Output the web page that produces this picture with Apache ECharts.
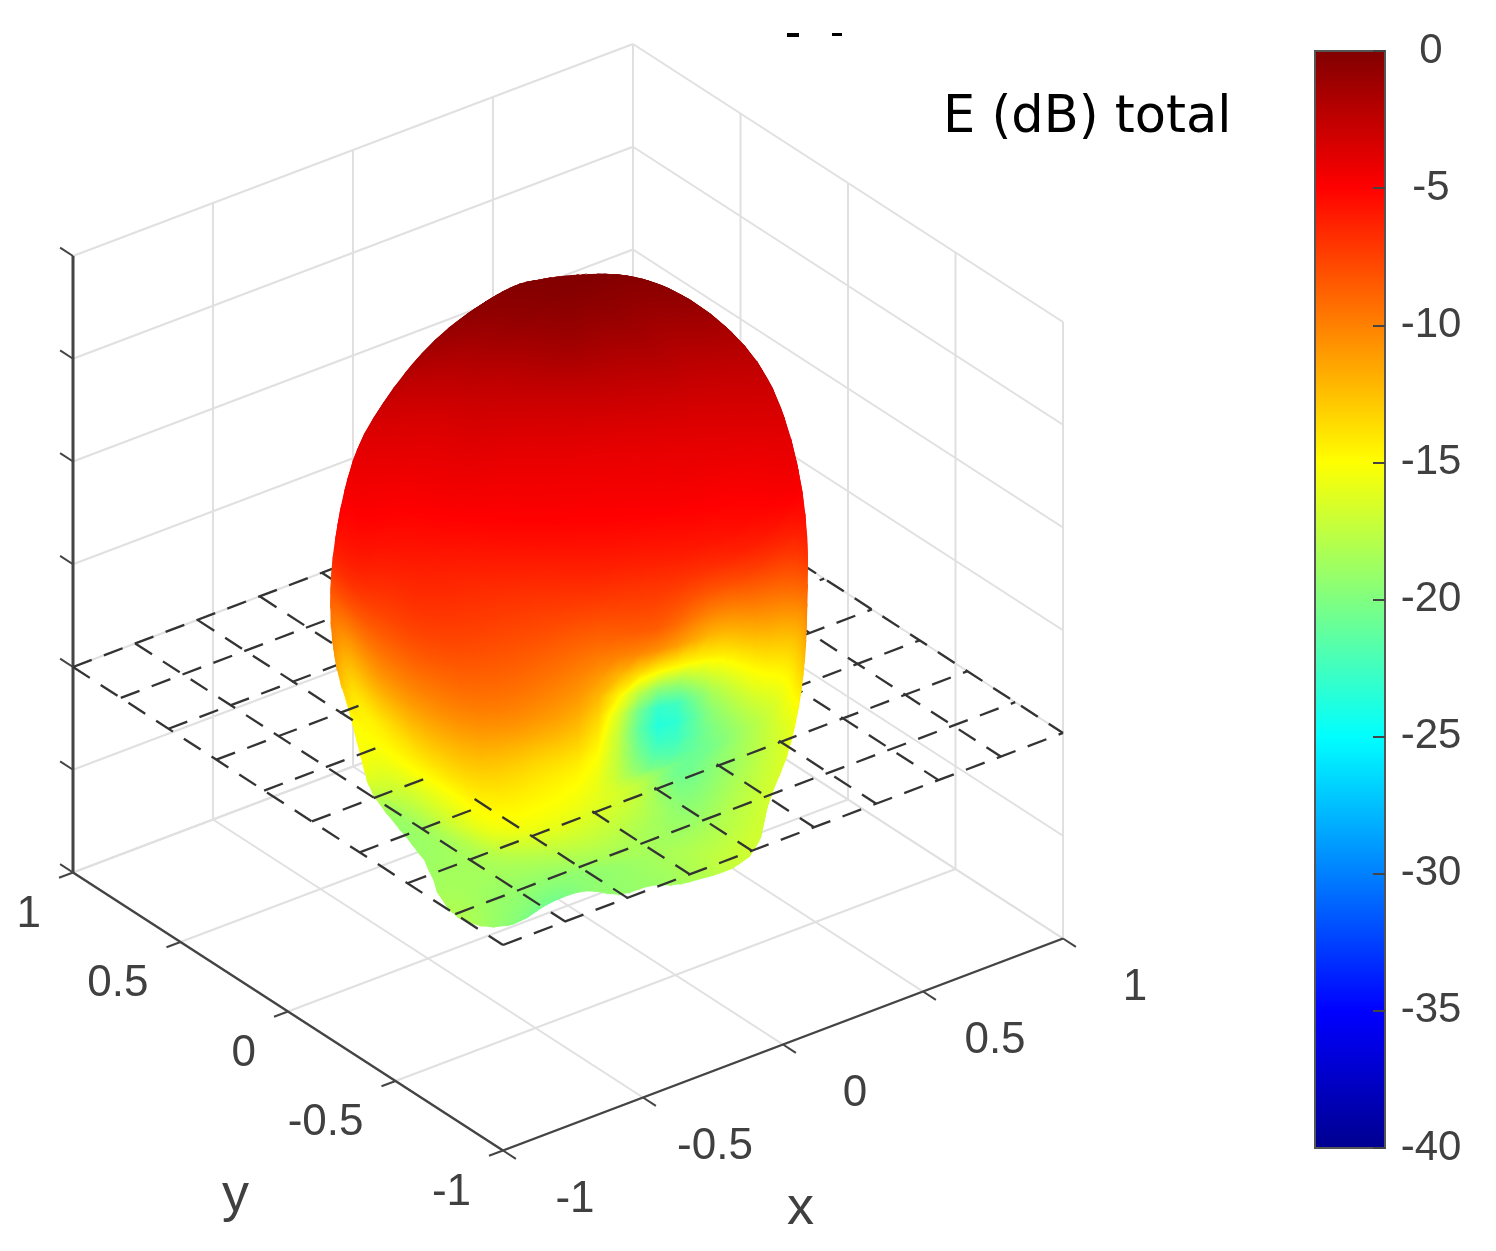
<!DOCTYPE html>
<html>
<head>
<meta charset="utf-8">
<title>E (dB) total</title>
<script src="https://cdn.jsdelivr.net/npm/echarts@6/dist/echarts.min.js"></script>
<style>
  html, body { margin: 0; background: #fff; }
  #chart { width: 1496px; height: 1251px; }
</style>
</head>
<body>
<div id="chart"></div>
<script>
// pattern mesh: one row per theta (deg), one column per phi (deg)
const thetaDeg = [0, 10, 20, 30, 40, 50, 60, 70, 80, 90, 100, 110, 120, 130, 140, 150, 160, 170, 180];
const phiDeg = [0, 15, 30, 45, 60, 75, 90, 105, 120, 135, 150, 165, 180, 195, 210, 225, 240, 255, 270, 285, 300, 315, 330, 345];

const radius = [
  [1, 1, 1, 1, 1, 1, 1, 1, 1, 1, 1, 1, 1, 1, 1, 1, 1, 1, 1, 1, 1, 1, 1, 1],
  [1, .99, .98, .975, .97, .97, .975, .975, .98, .985, .985, .98, .975, .975, .97, .97, .97, .98, .99, 1, 1.01, 1.02, 1.02, 1.01],
  [.98, .97, .96, .945, .945, .94, .935, .93, .935, .945, .95, .95, .95, .94, .93, .93, .93, .95, .96, .97, .99, 1, 1, .99],
  [.95, .95, .94, .93, .93, .92, .9, .885, .89, .895, .91, .91, .91, .9, .9, .9, .91, .92, .93, .94, .95, .96, .97, .96],
  [.91, .9, .9, .89, .89, .88, .87, .85, .85, .855, .875, .865, .86, .86, .86, .86, .87, .88, .89, .9, .91, .92, .92, .92],
  [.85, .84, .84, .84, .84, .83, .83, .82, .82, .81, .81, .81, .81, .81, .81, .81, .81, .82, .83, .83, .84, .85, .85, .85],
  [.78, .78, .78, .78, .78, .775, .77, .77, .765, .76, .76, .76, .76, .76, .76, .76, .76, .765, .77, .77, .775, .78, .78, .78],
  [.72, .72, .72, .72, .72, .72, .72, .72, .72, .715, .715, .71, .71, .71, .71, .71, .71, .71, .71, .71, .72, .72, .72, .72],
  [.68, .68, .68, .68, .68, .68, .68, .675, .675, .67, .67, .665, .66, .66, .655, .65, .65, .655, .66, .665, .67, .68, .68, .68],
  [.64, .64, .64, .64, .64, .64, .64, .64, .635, .63, .62, .6, .59, .59, .63, .67, .58, .52, .51, .54, .61, .65, .65, .64],
  [.61, .61, .61, .6, .6, .6, .6, .6, .6, .6, .6, .59, .58, .58, .57, .56, .56, .57, .58, .59, .6, .63, .63, .62],
  [.58, .58, .58, .58, .58, .58, .58, .58, .58, .59, .59, .56, .55, .55, .54, .53, .53, .53, .54, .56, .61, .61, .6, .59],
  [.55, .55, .55, .55, .55, .55, .55, .55, .55, .55, .55, .55, .56, .58, .55, .5, .48, .48, .48, .52, .61, .62, .58, .56],
  [.5, .5, .5, .5, .5, .5, .5, .5, .5, .5, .5, .5, .58, .6, .58, .51, .48, .5, .5, .53, .55, .55, .5, .5],
  [.42, .42, .42, .42, .42, .42, .42, .42, .42, .42, .42, .42, .5, .5, .5, .44, .42, .42, .42, .42, .42, .42, .42, .42],
  [.4, .4, .4, .4, .4, .4, .4, .4, .4, .4, .4, .4, .4, .45, .45, .41, .4, .4, .4, .4, .4, .4, .4, .4],
  [.38, .38, .38, .38, .38, .38, .38, .38, .38, .38, .38, .38, .38, .38, .38, .38, .38, .38, .38, .38, .38, .38, .38, .38],
  [.36, .36, .36, .36, .36, .36, .36, .36, .36, .36, .36, .36, .36, .36, .36, .36, .36, .36, .36, .36, .36, .36, .36, .36],
  [.35, .35, .35, .35, .35, .35, .35, .35, .35, .35, .35, .35, .35, .35, .35, .35, .35, .35, .35, .35, .35, .35, .35, .35]
];

const dbTotal = [
  [-.2, -.2, -.2, -.2, -.2, -.2, -.2, -.2, -.2, -.2, -.2, -.2, -.2, -.2, -.2, -.2, -.2, -.2, -.2, -.2, -.2, -.2, -.2, -.2],
  [-.2, -.1, -.1, -.1, -.1, -.1, -.1, -.2, -.25, -.4, -.5, -.7, -.8, -1, -1.1, -1.1, -1.1, -1.1, -1, -.8, -.7, -.5, -.4, -.25],
  [-.4, -.2, -.2, -.2, -.2, -.2, -.3, -.4, -.6, -.9, -1.3, -1.8, -2.1, -2.5, -2.7, -2.8, -2.8, -2.6, -2.4, -2.1, -1.8, -1.3, -.9, -.6],
  [-.9, -.5, -.4, -.3, -.3, -.4, -.5, -.9, -1.4, -2, -2.6, -3.1, -3.5, -3.7, -4, -4.1, -4.1, -4, -3.8, -3.5, -3.1, -2.6, -2, -1.4],
  [-2, -1.4, -1, -.9, -.9, -1, -1.4, -2, -2.6, -3.2, -3.7, -4.2, -4.6, -4.8, -5, -5.1, -5.1, -5, -4.8, -4.6, -4.2, -3.7, -3.2, -2.6],
  [-3.3, -2.9, -2.5, -2.3, -2.3, -2.5, -2.9, -3.3, -3.9, -4.4, -4.8, -5.2, -5.8, -6.2, -6.6, -6.9, -7, -7, -6.8, -6.2, -5.5, -4.8, -4.4, -3.9],
  [-4.4, -4, -3.6, -3.4, -3.4, -3.6, -4, -4.4, -4.8, -5.2, -6.3, -7, -7.6, -7.6, -8, -8.7, -9.8, -10.5, -12, -10.5, -9, -7, -5.5, -4.8],
  [-6, -5.5, -5, -5, -5, -5, -5.5, -6, -6.5, -8, -9.5, -11, -10.5, -10, -9.8, -10.7, -13.3, -23, -18.5, -15, -13, -10.5, -8, -6],
  [-8, -7.5, -7, -7, -7, -7, -7.5, -8, -9, -10.5, -11.5, -14, -13.7, -12.7, -12.3, -13.5, -15.3, -21.5, -20.5, -18, -15.8, -13, -11, -9],
  [-10, -10, -10, -10, -10, -10, -10, -10, -11.5, -13.5, -14.7, -15, -15, -14.7, -14.5, -15.2, -16, -17.5, -20.7, -19.5, -17.3, -15.5, -13, -11],
  [-12, -12, -12, -12, -12, -12, -12, -12, -13, -14.8, -15, -16.5, -17.5, -17, -15.8, -16.3, -17.2, -18.3, -19, -18, -17.2, -16.3, -15.5, -14],
  [-14, -14, -14, -14, -14, -14, -14, -14, -14.5, -15.5, -17.5, -18.8, -18.8, -18.5, -18, -18.2, -18.5, -18.5, -18.4, -18, -17, -16.8, -16.5, -15.5],
  [-16, -16, -16, -16, -16, -16, -16, -16, -17, -18, -19.2, -19, -18.8, -18.5, -19, -19.2, -19.2, -19, -18.5, -18, -17, -17.2, -17, -16],
  [-18, -18, -18, -18, -18, -18, -18, -18, -18, -18, -18, -19, -18.5, -18.2, -19.5, -20.5, -19.5, -19.2, -19, -18.5, -18, -17.5, -17, -17],
  [-19, -19, -19, -19, -19, -19, -19, -19, -19, -19, -19, -19, -19, -19.5, -20.5, -21, -19, -19, -19, -19, -19, -19, -19, -19],
  [-20, -20, -20, -20, -20, -20, -20, -20, -20, -20, -20, -20, -20, -20, -20, -20, -20, -20, -20, -20, -20, -20, -20, -20],
  [-20, -20, -20, -20, -20, -20, -20, -20, -20, -20, -20, -20, -20, -20, -20, -20, -20, -20, -20, -20, -20, -20, -20, -20],
  [-20, -20, -20, -20, -20, -20, -20, -20, -20, -20, -20, -20, -20, -20, -20, -20, -20, -20, -20, -20, -20, -20, -20, -20],
  [-20, -20, -20, -20, -20, -20, -20, -20, -20, -20, -20, -20, -20, -20, -20, -20, -20, -20, -20, -20, -20, -20, -20, -20]
];

const xyTicks = [-1, -0.5, 0, 0.5, 1];
const xyTickLabels = ['-1', '-0.5', '0', '0.5', '1'];
const zTicks = [-0.5, -0.25, 0, 0.25, 0.5, 0.75, 1];
const planeLines = [-1, -7 / 9, -5 / 9, -3 / 9, -1 / 9, 1 / 9, 3 / 9, 5 / 9, 7 / 9, 1];
const jetColors = ['#00008f', '#0000ff', '#0080ff', '#00ffff', '#80ff80', '#ffff00', '#ff8000', '#ff0000', '#800000'];
const colorbarMin = -40;
const colorbarMax = 0;

// view of the 3d box on the hidden page axes
const origin = [568, 700];
const xDir = [280, -106];
const yDir = [-215, -139];
const zDir = [0, -411];
const depthDir = [-0.53, -0.68, 0.66];
const DASH = 20;
const GAP = 13;
const PATCH_STEPS = 3;
const FONT = '"Liberation Sans", Arial, sans-serif';

function project(x, y, z) {
  return [
    origin[0] + x * xDir[0] + y * yDir[0] + z * zDir[0],
    origin[1] + x * xDir[1] + y * yDir[1] + z * zDir[1]
  ];
}

function depth(p) {
  return p[0] * depthDir[0] + p[1] * depthDir[1] + p[2] * depthDir[2];
}

function jet(db) {
  return echarts.color.lerp((db - colorbarMin) / (colorbarMax - colorbarMin), jetColors);
}

function curve(a, b, c, d, t) {
  return b + 0.5 * t * (c - a + t * (2 * a - 5 * b + 4 * c - d + t * (3 * (b - c) + d - a)));
}

// reads a mesh table between its nodes, so that cells are drawn as smooth patches (like shading interp)
function patchValue(table, u, v) {
  const rows = table.length;
  const cols = table[0].length;
  const i = Math.min(Math.floor(u), rows - 2);
  const j = Math.floor(v) % cols;
  const tu = u - i;
  const tv = v - Math.floor(v);
  const across = [-1, 0, 1, 2].map((di) => {
    const row = table[Math.max(0, Math.min(rows - 1, i + di))];
    return curve(row[(j + cols - 1) % cols], row[j], row[(j + 1) % cols], row[(j + 2) % cols], tv);
  });
  return curve(across[0], across[1], across[2], across[3], tu);
}

// drawn vertices
const verts = [];
for (let iu = 0; iu <= (thetaDeg.length - 1) * PATCH_STEPS; iu++) {
  const row = [];
  const u = iu / PATCH_STEPS;
  for (let iv = 0; iv < phiDeg.length * PATCH_STEPS; iv++) {
    const v = iv / PATCH_STEPS;
    const th = u * 10 * Math.PI / 180;
    const ph = v * 15 * Math.PI / 180;
    const r = patchValue(radius, u, v);
    row.push([r * Math.sin(th) * Math.cos(ph), r * Math.sin(th) * Math.sin(ph), r * Math.cos(th), patchValue(dbTotal, u, v)]);
  }
  verts.push(row);
}

// front-facing triangles, back to front
function facesViewer(t) {
  const a = project(t[0][0], t[0][1], t[0][2]);
  const b = project(t[1][0], t[1][1], t[1][2]);
  const c = project(t[2][0], t[2][1], t[2][2]);
  return (b[0] - a[0]) * (c[1] - a[1]) - (b[1] - a[1]) * (c[0] - a[0]) > 0;
}
const triangles = [];
for (let i = 0; i < verts.length - 1; i++) {
  for (let j = 0; j < verts[0].length; j++) {
    const k = (j + 1) % verts[0].length;
    const first = [verts[i][j], verts[i][k], verts[i + 1][j]];
    const second = [verts[i][k], verts[i + 1][k], verts[i + 1][j]];
    if (i > 0 && facesViewer(first)) triangles.push(first);
    if (i < verts.length - 2 && facesViewer(second)) triangles.push(second);
  }
}
const triDepth = (t) => depth(t[0]) + depth(t[1]) + depth(t[2]);
triangles.sort((a, b) => triDepth(a) - triDepth(b));

// radius of the body where it crosses the z = 0 plane
function crossSection(x, y) {
  let f = Math.atan2(y, x) * 180 / Math.PI;
  if (f < 0) f += 360;
  return patchValue(radius, thetaDeg.indexOf(90), f / 15);
}

// dashes of the z = 0 grid, split by whether the body hides them
const dashesBehind = [];
const dashesFront = [];
function addDashes(from, to) {
  const a = project(from[0], from[1], 0);
  const b = project(to[0], to[1], 0);
  const len = Math.hypot(b[0] - a[0], b[1] - a[1]);
  for (let s = 0; s < len; s += DASH + GAP) {
    const t0 = s / len;
    const t1 = Math.min(1, (s + DASH) / len);
    const d0 = [from[0] + (to[0] - from[0]) * t0, from[1] + (to[1] - from[1]) * t0];
    const d1 = [from[0] + (to[0] - from[0]) * t1, from[1] + (to[1] - from[1]) * t1];
    const mx = (d0[0] + d1[0]) / 2;
    const my = (d0[1] + d1[1]) / 2;
    const outside = Math.hypot(mx, my) > crossSection(mx, my);
    const inFront = depth([mx, my, 0]) > 0;
    (outside && inFront ? dashesFront : dashesBehind).push([d0, d1]);
  }
}
planeLines.forEach((v) => {
  addDashes([-1, v], [1, v]);
  addDashes([v, 1], [v, -1]);
});

// box lines as [from, to, kind]
const boxLines = [];
xyTicks.forEach((v) => {
  boxLines.push([[v, 1, -0.5], [v, -1, -0.5], 'grid']);
  boxLines.push([[-1, v, -0.5], [1, v, -0.5], 'grid']);
  boxLines.push([[v, 1, -0.5], [v, 1, 1], 'grid']);
  boxLines.push([[1, v, -0.5], [1, v, 1], 'grid']);
});
zTicks.forEach((z) => {
  boxLines.push([[-1, 1, z], [1, 1, z], 'grid']);
  boxLines.push([[1, 1, z], [1, -1, z], 'grid']);
  boxLines.push([[-1, 1, z], [-1, 1.06, z], 'tick']);
});
xyTicks.forEach((v) => {
  boxLines.push([[v, -1, -0.5], [v, -1.06, -0.5], 'tick']);
  boxLines.push([[-1, v, -0.5], [-1.05, v, -0.5], 'tick']);
});
boxLines.push([[-1, 1, -0.5], [-1, 1, 1], 'zaxis']);
boxLines.push([[-1, -1, -0.5], [1, -1, -0.5], 'axis']);
boxLines.push([[-1, -1, -0.5], [-1, 1, -0.5], 'axis']);

const lineStyles = {
  grid: { stroke: '#e0e0e0', lineWidth: 2 },
  tick: { stroke: '#444', lineWidth: 2 },
  axis: { stroke: '#444', lineWidth: 2.4 },
  zaxis: { stroke: '#444', lineWidth: 3 }
};

function pagePoint(api, p) {
  return api.coord(project(p[0], p[1], p[2]));
}

function triangleFill(pts, vals) {
  const ax = pts[1][0] - pts[0][0];
  const ay = pts[1][1] - pts[0][1];
  const bx = pts[2][0] - pts[0][0];
  const by = pts[2][1] - pts[0][1];
  const det = ax * by - bx * ay;
  const lo = Math.min(vals[0], vals[1], vals[2]);
  const hi = Math.max(vals[0], vals[1], vals[2]);
  if (Math.abs(det) < 1 || hi - lo < 0.01) return jet((vals[0] + vals[1] + vals[2]) / 3);
  const dv1 = vals[1] - vals[0];
  const dv2 = vals[2] - vals[0];
  const gx = (dv1 * by - dv2 * ay) / det;
  const gy = (ax * dv2 - bx * dv1) / det;
  const g2 = gx * gx + gy * gy;
  const start = pts[vals.indexOf(lo)];
  const stops = [{ offset: 0, color: jet(lo) }];
  for (let k = Math.ceil(lo / 5) * 5; k < hi; k += 5) {
    if (k > lo) stops.push({ offset: (k - lo) / (hi - lo), color: jet(k) });
  }
  stops.push({ offset: 1, color: jet(hi) });
  return new echarts.graphic.LinearGradient(
    start[0], start[1],
    start[0] + gx * (hi - lo) / g2, start[1] + gy * (hi - lo) / g2,
    stops, true
  );
}

function renderSurface(params, api) {
  const tri = triangles[api.value(0)];
  const pts = tri.map((v) => pagePoint(api, v));
  const fill = triangleFill(pts, tri.map((v) => v[3]));
  return {
    type: 'polygon',
    shape: { points: pts },
    style: { fill: fill, stroke: fill, lineWidth: 1.5 }
  };
}

function renderDash(list) {
  return (params, api) => {
    const d = list[api.value(0)];
    const a = pagePoint(api, [d[0][0], d[0][1], 0]);
    const b = pagePoint(api, [d[1][0], d[1][1], 0]);
    return {
      type: 'line',
      shape: { x1: a[0], y1: a[1], x2: b[0], y2: b[1] },
      style: { stroke: '#333', lineWidth: 2.3 }
    };
  };
}

function renderBox(params, api) {
  const l = boxLines[api.value(0)];
  const a = pagePoint(api, l[0]);
  const b = pagePoint(api, l[1]);
  return {
    type: 'line',
    shape: { x1: a[0], y1: a[1], x2: b[0], y2: b[1] },
    style: lineStyles[l[2]]
  };
}

function tickText(text, pos, align, size) {
  return {
    type: 'text',
    style: {
      text: text, x: pos[0], y: pos[1], fill: '#404040',
      font: size + 'px ' + FONT, textAlign: align, textVerticalAlign: 'middle'
    }
  };
}

function renderTickLabels(params, api) {
  const i = api.value(0);
  const onX = pagePoint(api, [xyTicks[i], -1, -0.5]);
  const onY = pagePoint(api, [-1, xyTicks[i], -0.5]);
  return {
    type: 'group',
    children: [
      tickText(xyTickLabels[i], [onX[0] + 72, onX[1] + 49], 'center', 44),
      tickText(xyTickLabels[i], [onY[0] - 32, onY[1] + 42], 'right', 44)
    ]
  };
}

function renderColorbar(params, api) {
  const top = api.coord([0, colorbarMax]);
  const bottom = api.coord([1, colorbarMin]);
  return {
    type: 'rect',
    shape: { x: top[0], y: top[1], width: bottom[0] - top[0], height: bottom[1] - top[1] },
    style: {
      fill: new echarts.graphic.LinearGradient(0, 1, 0, 0,
        jetColors.map((c, i) => ({ offset: i / (jetColors.length - 1), color: c }))),
      stroke: '#555',
      lineWidth: 2
    }
  };
}

function indexData(list) {
  return list.map((_, i) => [i]);
}

function customOnPage(name, data, renderItem) {
  return {
    name: name,
    type: 'custom',
    xAxisIndex: 0,
    yAxisIndex: 0,
    coordinateSystem: 'cartesian2d',
    animation: false,
    silent: true,
    data: data,
    renderItem: renderItem
  };
}

const chart = echarts.init(document.getElementById('chart'), null, { renderer: 'canvas' });
chart.setOption({
  backgroundColor: '#fff',
  animation: false,
  title: {
    text: 'E (dB) total',
    left: 943,
    top: 93,
    padding: 0,
    textStyle: { fontFamily: '"DejaVu Sans"', fontSize: 51, fontWeight: 'normal', color: '#000' }
  },
  grid: [
    { left: 0, top: 0, width: 1496, height: 1251 },
    { left: 1315, top: 51, width: 70, height: 1097 }
  ],
  xAxis: [
    { type: 'value', show: false, min: 0, max: 1496, gridIndex: 0 },
    { type: 'value', show: false, min: 0, max: 1, gridIndex: 1 }
  ],
  yAxis: [
    { type: 'value', show: false, min: 0, max: 1251, inverse: true, gridIndex: 0 },
    {
      type: 'value',
      gridIndex: 1,
      position: 'right',
      min: colorbarMin,
      max: colorbarMax,
      interval: 5,
      z: 5,
      splitLine: { show: false },
      axisLine: { show: false, onZero: false },
      axisTick: { show: true, inside: true, length: 12, lineStyle: { color: '#444', width: 2 } },
      axisLabel: { margin: 46, align: 'center', color: '#404040', fontSize: 42, fontFamily: FONT, padding: [6, 0, 0, 0] }
    }
  ],
  series: [
    customOnPage('box', indexData(boxLines), renderBox),
    customOnPage('plane behind', indexData(dashesBehind), renderDash(dashesBehind)),
    customOnPage('E total', indexData(triangles), renderSurface),
    customOnPage('plane front', indexData(dashesFront), renderDash(dashesFront)),
    customOnPage('tick labels', indexData(xyTicks), renderTickLabels),
    {
      name: 'colorbar',
      type: 'custom',
      xAxisIndex: 1,
      yAxisIndex: 1,
      coordinateSystem: 'cartesian2d',
      animation: false,
      silent: true,
      data: [[0, colorbarMax]],
      renderItem: renderColorbar
    }
  ],
  graphic: [
    { type: 'text', left: 222, top: 1169, style: { text: 'y', font: '54px ' + FONT, fill: '#404040' } },
    { type: 'text', left: 787, top: 1182, style: { text: 'x', font: '54px ' + FONT, fill: '#404040' } },
    { type: 'rect', left: 787, top: 33, shape: { width: 12, height: 4 }, style: { fill: '#000' } },
    { type: 'rect', left: 832, top: 33, shape: { width: 10, height: 3 }, style: { fill: '#000' } }
  ]
});
</script>
</body>
</html>
